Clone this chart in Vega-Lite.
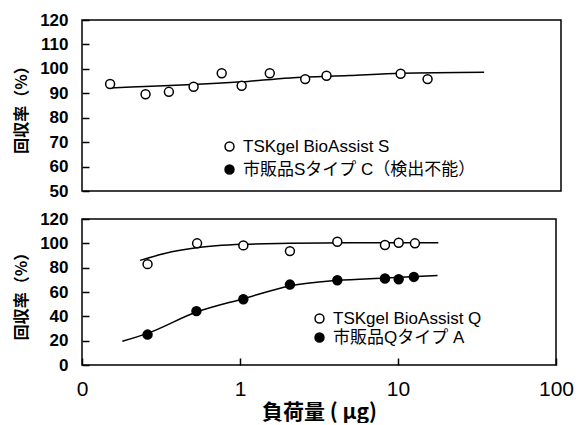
{
  "$schema": "https://vega.github.io/schema/vega-lite/v6.json",
  "padding": {"left": 12, "top": 10, "right": 5, "bottom": 0},
  "background": "white",
  "spacing": 9,
  "datasets": {
    "topPts": [
      {"x": 0.15, "y": 93.8, "series": "TSKgel BioAssist S"},
      {"x": 0.25, "y": 89.6, "series": "TSKgel BioAssist S"},
      {"x": 0.35, "y": 90.6, "series": "TSKgel BioAssist S"},
      {"x": 0.5, "y": 92.7, "series": "TSKgel BioAssist S"},
      {"x": 0.75, "y": 98.2, "series": "TSKgel BioAssist S"},
      {"x": 1.0, "y": 93.1, "series": "TSKgel BioAssist S"},
      {"x": 1.5, "y": 98.2, "series": "TSKgel BioAssist S"},
      {"x": 2.5, "y": 95.8, "series": "TSKgel BioAssist S"},
      {"x": 3.4, "y": 97.2, "series": "TSKgel BioAssist S"},
      {"x": 9.9, "y": 98.0, "series": "TSKgel BioAssist S"},
      {"x": 14.6, "y": 95.8, "series": "TSKgel BioAssist S"}
    ],
    "topFit": [
      {"x": 0.15, "y": 92.2, "series": "S"},
      {"x": 1.0, "y": 94.7, "series": "S"},
      {"x": 2.0, "y": 96.3, "series": "S"},
      {"x": 4.7, "y": 97.3, "series": "S"},
      {"x": 10, "y": 98.2, "series": "S"},
      {"x": 33, "y": 98.6, "series": "S"}
    ],
    "botPts": [
      {"x": 0.26, "y": 82.9, "series": "TSKgel BioAssist Q"},
      {"x": 0.535, "y": 100, "series": "TSKgel BioAssist Q"},
      {"x": 1.05, "y": 98.3, "series": "TSKgel BioAssist Q"},
      {"x": 2.07, "y": 93.6, "series": "TSKgel BioAssist Q"},
      {"x": 4.13, "y": 101.3, "series": "TSKgel BioAssist Q"},
      {"x": 8.27, "y": 98.6, "series": "TSKgel BioAssist Q"},
      {"x": 10.1, "y": 100.5, "series": "TSKgel BioAssist Q"},
      {"x": 12.8, "y": 100, "series": "TSKgel BioAssist Q"},
      {"x": 0.26, "y": 25.0, "series": "市販品Qタイプ A"},
      {"x": 0.53, "y": 44.3, "series": "市販品Qタイプ A"},
      {"x": 1.05, "y": 54.0, "series": "市販品Qタイプ A"},
      {"x": 2.07, "y": 66.1, "series": "市販品Qタイプ A"},
      {"x": 4.13, "y": 69.7, "series": "市販品Qタイプ A"},
      {"x": 8.27, "y": 71.1, "series": "市販品Qタイプ A"},
      {"x": 10.1, "y": 70.5, "series": "市販品Qタイプ A"},
      {"x": 12.6, "y": 72.4, "series": "市販品Qタイプ A"}
    ],
    "botFit": [
      {"x": 0.233, "y": 86, "series": "Q"},
      {"x": 0.37, "y": 93, "series": "Q"},
      {"x": 0.53, "y": 96.4, "series": "Q"},
      {"x": 1.05, "y": 99.2, "series": "Q"},
      {"x": 2.07, "y": 100, "series": "Q"},
      {"x": 5, "y": 100.5, "series": "Q"},
      {"x": 18, "y": 100.5, "series": "Q"},
      {"x": 0.18, "y": 19.5, "series": "A"},
      {"x": 0.26, "y": 26, "series": "A"},
      {"x": 0.53, "y": 43.5, "series": "A"},
      {"x": 1.05, "y": 54.5, "series": "A"},
      {"x": 2.07, "y": 65, "series": "A"},
      {"x": 4.1, "y": 69.5, "series": "A"},
      {"x": 8.3, "y": 71.5, "series": "A"},
      {"x": 17.8, "y": 73.5, "series": "A"}
    ]
  },
  "vconcat": [
    {
      "width": 479,
      "height": 171,
      "layer": [
        {
          "data": {"name": "topFit"},
          "mark": {"type": "line", "color": "black", "strokeWidth": 1.5, "interpolate": "monotone"},
          "encoding": {
            "x": {"field": "x", "type": "quantitative", "scale": {"type": "log", "domain": [0.1, 100]}, "axis": null},
            "y": {
              "field": "y", "type": "quantitative", "scale": {"domain": [50, 120]},
              "axis": {"values": [50, 60, 70, 80, 90, 100, 110, 120], "title": "回収率（%）", "labelOverlap": false, "labelBound": false}
            },
            "detail": {"field": "series"}
          }
        },
        {
          "data": {"name": "topPts"},
          "mark": {"type": "circle", "size": 80, "stroke": "black", "strokeWidth": 1.5, "opacity": 1},
          "encoding": {
            "x": {"field": "x", "type": "quantitative", "scale": {"type": "log", "domain": [0.1, 100]}, "axis": null},
            "y": {
              "field": "y", "type": "quantitative", "scale": {"domain": [50, 120]},
              "axis": {"values": [50, 60, 70, 80, 90, 100, 110, 120], "title": "回収率（%）", "labelOverlap": false, "labelBound": false}
            },
            "fill": {
              "field": "series", "type": "nominal",
              "scale": {"domain": ["TSKgel BioAssist S", "市販品Sタイプ C（検出不能）"], "range": ["white", "black"]},
              "legend": {"orient": "none", "legendX": 139, "legendY": 118, "title": null, "rowPadding": 5}
            }
          }
        }
      ]
    },
    {
      "width": 474,
      "height": 146,
      "layer": [
        {
          "data": {"name": "botFit"},
          "mark": {"type": "line", "color": "black", "strokeWidth": 1.5, "interpolate": "monotone"},
          "encoding": {
            "x": {
              "field": "x", "type": "quantitative", "scale": {"type": "log", "domain": [0.1, 100]},
              "axis": {
                "values": [0.1, 1, 10, 100],
                "labelExpr": "datum.value < 0.5 ? '0' : datum.value < 5 ? '1' : datum.value < 50 ? '10' : '100'",
                "labelFontSize": 21, "labelFontWeight": "normal", "labelFlush": false, "labelPadding": 13, "labelOverlap": false,
                "title": "負荷量 ( μg)", "titleFontSize": 21, "titleFontWeight": "bold", "titlePadding": 2
              }
            },
            "y": {
              "field": "y", "type": "quantitative", "scale": {"domain": [0, 120]},
              "axis": {"values": [0, 20, 40, 60, 80, 100, 120], "title": "回収率（%）", "labelOverlap": false, "labelBound": false}
            },
            "detail": {"field": "series"}
          }
        },
        {
          "data": {"name": "botPts"},
          "mark": {"type": "circle", "size": 80, "stroke": "black", "strokeWidth": 1.5, "opacity": 1},
          "encoding": {
            "x": {
              "field": "x", "type": "quantitative", "scale": {"type": "log", "domain": [0.1, 100]},
              "axis": {
                "values": [0.1, 1, 10, 100],
                "labelExpr": "datum.value < 0.5 ? '0' : datum.value < 5 ? '1' : datum.value < 50 ? '10' : '100'",
                "labelFontSize": 21, "labelFontWeight": "normal", "labelFlush": false, "labelPadding": 13, "labelOverlap": false,
                "title": "負荷量 ( μg)", "titleFontSize": 21, "titleFontWeight": "bold", "titlePadding": 2
              }
            },
            "y": {
              "field": "y", "type": "quantitative", "scale": {"domain": [0, 120]},
              "axis": {"values": [0, 20, 40, 60, 80, 100, 120], "title": "回収率（%）", "labelOverlap": false, "labelBound": false}
            },
            "fill": {
              "field": "series", "type": "nominal",
              "scale": {"domain": ["TSKgel BioAssist Q", "市販品Qタイプ A"], "range": ["white", "black"]},
              "legend": {"orient": "none", "legendX": 229, "legendY": 91, "title": null, "rowPadding": 1}
            }
          }
        }
      ]
    }
  ],
  "resolve": {"scale": {"fill": "independent"}, "legend": {"fill": "independent"}},
  "config": {
    "font": "Liberation Sans, Noto Sans CJK JP",
    "view": {"stroke": "black", "strokeWidth": 1.5},
    "axis": {
      "domain": false, "grid": false, "offset": -7,
      "tickColor": "black", "tickSize": 7, "tickWidth": 1.5,
      "labelColor": "black", "labelFont": "Liberation Sans", "labelFontSize": 17, "labelFontWeight": "bold",
      "labelPadding": 14, "labelOverlap": false,
      "titleColor": "black", "titleFont": "Noto Sans CJK JP", "titleFontSize": 16, "titleFontWeight": "bold",
      "titlePadding": 10
    },
    "axisX": {"labelFontWeight": "normal"},
    "legend": {
      "symbolType": "circle", "symbolSize": 80, "symbolStrokeColor": "black", "symbolStrokeWidth": 1.5,
      "symbolOpacity": 1, "labelFontSize": 17, "labelColor": "black", "labelFont": "Liberation Sans, Noto Sans CJK JP",
      "labelLimit": 0, "labelOffset": 5
    }
  }
}
